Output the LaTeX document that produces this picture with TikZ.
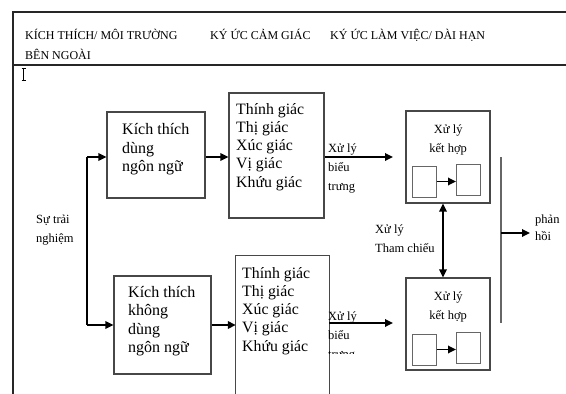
\documentclass[tikz,border=0pt]{standalone}
\usepackage{fontspec}
\setmainfont{Liberation Serif}
\usetikzlibrary{arrows.meta}
\newcommand{\mylines}[2]{\parbox[t]{#1}{\raggedright #2}}
\newcommand{\mycenter}[2]{\parbox[t]{#1}{\centering #2}}
\begin{document}
\begin{tikzpicture}[x=1pt,y=-1pt,
  box/.style={draw=black!72, line width=1.1pt, inner sep=0, rectangle},
  small/.style={draw=black!60, line width=1pt, inner sep=0, rectangle, minimum width=24pt, minimum height=31pt},
  arr/.style={line width=1.7pt, -{Triangle[length=8pt,width=7.5pt]}},
  darr/.style={line width=1.7pt, {Triangle[length=8pt,width=7.5pt]}-{Triangle[length=8pt,width=7.5pt]}},
  frame/.style={line width=1.3pt, draw=black!85},
  big/.style={inner sep=0, anchor=base west, font=\fontsize{16}{18.6}\selectfont},
  sense/.style={inner sep=0, anchor=base west, font=\fontsize{15.8}{18.3}\selectfont},
  lbl/.style={inner sep=0, anchor=base west, font=\fontsize{12.5}{19}\selectfont},
  hdr/.style={inner sep=0, anchor=base west, font=\fontsize{12}{20}\selectfont}]
\useasboundingbox (0,0) rectangle (566,394);
\fill[white] (0,0) rectangle (566,394);

% frame
\coordinate (ftl) at (13,12);
\coordinate (ftr) at (566,12);
\coordinate (fhl) at (13,65);
\coordinate (fhr) at (566,65);
\coordinate (fbl) at (13,394);
\draw[frame] (ftr) -- (ftl) -- (fhl);
\draw[frame] (fhl) -- (fhr);
\draw[line width=2.6pt, draw=black!85] (fhl) -- (fbl);

% header
\node[hdr] (h1) at (25,39) {\mylines{200pt}{KÍCH THÍCH/ MÔI TRƯỜNG\\BÊN NGOÀI}};
\node[hdr] (h2) at (210,39) {KÝ ỨC CẢM GIÁC};
\node[hdr] (h3) at (330,39) {KÝ ỨC LÀM VIỆC/ DÀI HẠN};

% text cursor
\draw[line width=0.7pt] (23.5,68) -- (23.5,80) (21.5,68) -- (25.5,68) (21.5,80) -- (25.5,80);

% boxes
\node[box, minimum width=98pt, minimum height=86pt] (A) at (156,155) {};
\node[box, minimum width=97pt, minimum height=98pt] (B) at (162.5,325) {};
\node[box, minimum width=95pt, minimum height=125pt] (S1) at (276.5,155.5) {};
\node[inner sep=0, minimum width=93pt, minimum height=138pt] (S2) at (282.5,325) {};
\draw[draw=black!72, line width=1.1pt] (S2.south west) -- (S2.north west) -- (S2.north east) -- (S2.south east);
\node[box, minimum width=84pt, minimum height=92pt] (P1) at (448,157) {};
\node[box, minimum width=84pt, minimum height=92pt] (P2) at (448,324) {};
\node[small] (L1) at (424,181.5) {};
\node[small] (R1) at (468.5,179.5) {};
\node[small] (L2) at (424,349.5) {};
\node[small] (R2) at (468.5,347.5) {};

% texts
\node[big] (tA) at (122,134.5) {\mylines{90pt}{Kích thích\\dùng\\ngôn ngữ}};
\node[big] (tB) at (128,297) {\mylines{90pt}{Kích thích\\không\\dùng\\ngôn ngữ}};
\node[sense] (tS1) at (236,114) {\mylines{90pt}{Thính giác\\Thị giác\\Xúc giác\\Vị giác\\Khứu giác}};
\node[sense] (tS2) at (242,278) {\mylines{90pt}{Thính giác\\Thị giác\\Xúc giác\\Vị giác\\Khứu giác}};
\node[lbl] (tP1) at (406,133) {\mycenter{84pt}{Xử lý\\kết hợp}};
\node[lbl] (tP2) at (406,300) {\mycenter{84pt}{Xử lý\\kết hợp}};
\node[lbl] (exp) at (36,223) {\mylines{60pt}{Sự trải\\nghiệm}};
\node[lbl] (bt1) at (328,152) {\mylines{60pt}{Xử lý\\biểu\\trưng}};
\begin{scope}
\clip (320,300) rectangle (400,353);
\node[lbl] (bt2) at (328,320) {\mylines{60pt}{Xử lý\\biểu\\trưng}};
\end{scope}
\node[lbl] (tc) at (375,233) {\mylines{80pt}{Xử lý\\Tham chiếu}};
\node[lbl, font=\fontsize{12.5}{17}\selectfont] (ph) at (535,223) {\mylines{40pt}{phản\\hồi}};

% connectors
\coordinate (t1) at (87,157);
\coordinate (t2) at (87,325);
\draw[line width=1.7pt] (t1) -- (t2);
\draw[arr] (t1) -- (t1 -| A.west);
\draw[arr] (t2) -- (t2 -| B.west);
\coordinate (a1) at (205,157);
\draw[arr] (a1 -| A.east) -- (a1 -| S1.west);
\coordinate (b1) at (211,325);
\draw[arr] (b1 -| B.east) -- (b1 -| S2.west);
\coordinate (e1) at (393,157);
\draw[arr] (e1 -| S1.east) -- (e1);
\coordinate (e2) at (393,323);
\draw[arr] (e2 -| S2.east) -- (e2);
\coordinate (m) at (443,200);
\draw[darr] (m |- P1.south) -- (m |- P2.north);
\draw[arr] (L1.east) -- (L1.east -| R1.west);
\draw[arr] (L2.east) -- (L2.east -| R2.west);
\coordinate (v1) at (501,157);
\coordinate (v2) at (501,323);
\coordinate (vm) at (501,233);
\coordinate (fb) at (530,233);
\draw[line width=1.2pt, draw=black!60] (v1) -- (v2);
\draw[arr] (vm) -- (fb);
\end{tikzpicture}
\end{document}
